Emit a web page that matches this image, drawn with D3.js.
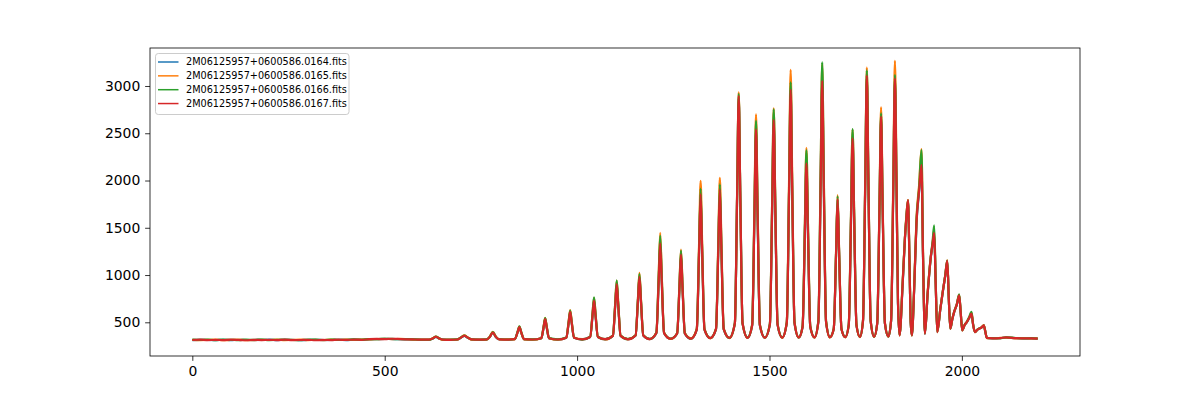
<!DOCTYPE html>
<html><head><meta charset="utf-8">
<script src="https://cdn.jsdelivr.net/npm/d3@7"></script>
<style>body{margin:0;background:#fff}svg{display:block}text{font-family:"DejaVu Sans",sans-serif}</style>
</head><body><svg id="chart" width="1200" height="400"></svg>
<script>
const pixelIndex = [
0,20,40,60,80,100,120,140,160,180,200,220,240,260,280,300,320,340,360,380,400,420,440,460,480,500,520,540,560,580,600,
615,625,633,641,651,670,688,698,707,716,726,748,765,773,781,789,798,822,838,845,850,855,862,885,
907,913,917,921,927,950,
972,978,982,986,992,1013,
1034,1040,1044,1048,1054,1073,
1093,1099,1103,1107,1113,1132,
1152,1158,1162,1166,1172,1189,
1206,1212,1216,1220,1226,1243,
1260,1266,1270,1274,1280,1296,
1311,1317,1321,1325,1331,1346,
1361,1367,1371,1375,1381,1396,
1410,1416,1420,1424,1430,1443,
1455,1461,1465,1469,1475,1488,
1501,1507,1511,1515,1521,1533,
1545,1551,1555,1559,1565,1576,
1586,1592,1596,1600,1606,1617,
1627,1633,1637,1641,1647,1657,
1667,1673,1677,1681,1687,1697,
1706,1712,1716,1720,1726,1735,
1743,1749,1753,1757,1763,1772,
1780,1786,1790,1794,1800,1809,
1816,1822,1826,1830,1834,1838,
1846,1852,1856,1860,1864,1867,1870,
1876,1882,1889,1895,1899,1904,
1911,1919,1924,1928,1932,1936,
1944,1951,1957,1962,1966,1970,
1975,1980,1987,1993,1997,2001,
2007,2013,2019,2025,2029,2034,
2040,2045,2051,2057,2061,2065,
2080,2100,2115,2140,2160,2180,2197];

const seriesNames = ["2M06125957+0600586.0164.fits","2M06125957+0600586.0165.fits","2M06125957+0600586.0166.fits","2M06125957+0600586.0167.fits"];

const flux0164 = [
311,315,313,312,315,311,315,313,312,314,316,312,314,315,311,313,315,312,313,315,312,316,313,320,322,324,323,322,319,317,317,
317,328,345,329,316,316,317,337,356,336,318,317,317,344,390,343,319,318,321,388,445,388,321,317,
331,445,530,445,331,317,
337,488,600,488,337,320,
344,560,720,560,344,319,
356,666,895,666,356,322,
361,711,970,711,361,322,
385,922,1320,922,385,325,
381,854,1205,854,381,328,
422,1231,1830,1231,422,332,
426,1261,1880,1261,426,334,
487,1856,2870,1856,487,335,
466,1640,2510,1640,466,336,
473,1701,2610,1701,473,337,
494,1893,2930,1893,494,338,
448,1432,2160,1432,448,339,
501,1948,3020,1948,501,341,
429,1211,1790,1211,429,342,
469,1590,2420,1590,469,345,
510,1986,3080,1986,510,347,
486,1729,2650,1729,486,349,
512,1970,3050,1970,695,363,
890,1380,1610,1780,1090,498,361,
845,1540,1885,2140,1190,378,
795,1175,1320,1430,895,396,
638,838,998,1145,748,432,
528,608,688,782,598,414,
469,501,543,588,478,396,
419,432,444,466,399,334,
331,334,339,332,331,330,326];

const flux0165 = [
315,312,314,317,310,313,316,312,311,315,313,316,312,314,317,311,314,312,316,313,317,314,318,319,323,325,322,325,321,317,318,
318,332,350,331,315,318,316,340,362,340,317,318,316,347,398,348,318,319,320,393,455,392,320,316,
332,456,548,456,332,316,
339,506,630,506,339,321,
346,584,760,584,346,318,
359,693,940,693,359,323,
364,742,1022,742,364,321,
392,998,1446,998,392,324,
385,893,1270,893,385,330,
432,1331,1997,1331,432,331,
435,1351,2029,1351,435,332,
491,1894,2933,1894,491,334,
478,1754,2700,1754,478,335,
483,1793,2764,1793,483,336,
508,2037,3170,2037,508,337,
459,1543,2346,1543,459,338,
513,2074,3230,2074,513,339,
432,1244,1845,1244,432,341,
476,1662,2540,1662,476,343,
517,2055,3194,2055,517,345,
494,1804,2775,1804,494,347,
525,2099,3265,2099,720,360,
920,1400,1640,1795,1110,505,360,
870,1600,1960,2333,1250,382,
810,1190,1340,1480,910,395,
645,845,1005,1155,755,430,
535,612,695,790,605,413,
472,505,550,600,484,395,
422,435,447,470,402,333,
332,335,338,331,333,329,330];

const flux0166 = [
318,314,316,312,317,315,311,316,314,318,312,315,317,313,311,317,316,313,318,314,315,319,316,323,322,326,324,321,322,319,315,
315,329,348,332,318,314,319,339,360,337,320,315,319,346,396,346,321,316,323,395,458,394,322,319,
332,454,545,454,332,320,
338,503,625,503,338,317,
347,587,765,587,347,322,
359,696,945,696,359,321,
363,735,1010,735,363,324,
390,979,1415,979,390,327,
384,886,1258,886,384,326,
427,1282,1915,1282,427,334,
431,1309,1960,1309,431,336,
490,1883,2915,1883,490,338,
474,1712,2630,1712,474,339,
482,1786,2752,1786,482,340,
500,1959,3039,1959,500,341,
458,1529,2322,1529,458,342,
515,2087,3251,2087,515,343,
431,1236,1832,1236,431,345,
476,1664,2544,1664,476,347,
515,2037,3165,2037,515,349,
490,1765,2710,1765,490,351,
516,2010,3116,2010,705,364,
910,1395,1630,1790,1105,502,364,
860,1570,1930,2322,1230,383,
805,1185,1360,1527,930,399,
642,842,1003,1152,752,435,
532,611,693,795,603,417,
471,506,555,610,486,398,
421,434,446,469,401,336,
333,331,341,334,329,332,328];

const flux0167 = [
313,316,311,314,312,317,313,310,315,312,314,311,316,312,313,315,310,314,312,316,314,317,315,321,324,322,326,323,320,318,316,
316,330,347,330,317,315,318,338,358,338,319,316,318,345,392,345,320,317,322,390,448,390,323,318,
331,448,535,448,331,318,
337,494,610,494,337,319,
345,566,730,566,345,321,
357,672,905,672,357,320,
361,717,980,717,361,323,
386,931,1335,931,386,326,
382,863,1220,863,382,327,
423,1246,1856,1246,423,333,
427,1276,1905,1276,427,335,
489,1870,2894,1870,489,336,
468,1659,2541,1659,468,337,
475,1719,2640,1719,475,338,
495,1910,2958,1910,495,340,
450,1444,2181,1444,450,341,
503,1968,3053,1968,503,342,
430,1219,1803,1219,430,343,
470,1605,2446,1605,470,346,
512,2004,3109,2004,512,348,
488,1744,2675,1744,488,350,
514,1989,3081,1989,700,362,
900,1390,1620,1792,1100,500,362,
850,1550,1900,2163,1200,380,
800,1180,1330,1446,900,397,
640,840,1000,1150,750,433,
530,610,690,786,600,415,
470,503,545,592,480,397,
420,433,445,468,400,335,
330,333,340,333,330,331,327];

const xTicks = [0,500,1000,1500,2000];
const yTicks = [500,1000,1500,2000,2500,3000];
const colors = ["#1f77b4","#ff7f0e","#2ca02c","#d62728"];
const allSeries = [flux0164, flux0165, flux0166, flux0167];

const svg = d3.select("#chart");
const L=150, R=1080, T=48, B=356;
const x = d3.scaleLinear().domain([-110, 2307]).range([L, R]);
const y = d3.scaleLinear().domain([143.5, 3402]).range([B, T]);

svg.append("defs").append("clipPath").attr("id","clip")
  .append("rect").attr("x",L).attr("y",T).attr("width",R-L).attr("height",B-T);

const line = d3.line().x(d=>x(d[0])).y(d=>y(d[1])).curve(d3.curveMonotoneX);
const g = svg.append("g").attr("clip-path","url(#clip)");
allSeries.forEach((s,i)=>{
  g.append("path").datum(pixelIndex.map((p,j)=>[p,s[j]]))
    .attr("d", line).attr("fill","none").attr("stroke",colors[i])
    .attr("stroke-width",2.2).attr("stroke-linejoin","round").attr("stroke-linecap","butt");
});

const xa = svg.append("g").attr("transform",`translate(0,${B})`)
  .call(d3.axisBottom(x).tickValues(xTicks).tickSize(4.86).tickPadding(4.86).tickFormat(d3.format("d")));
const ya = svg.append("g").attr("transform",`translate(${L},0)`)
  .call(d3.axisLeft(y).tickValues(yTicks).tickSize(4.86).tickPadding(4.86).tickFormat(d3.format("d")));
[xa,ya].forEach(a=>{
  a.select(".domain").remove();
  a.selectAll(".tick line").attr("stroke","#000").attr("stroke-width",0.8);
  a.selectAll(".tick text").attr("fill","#000").style("font-size","13.9px").style("font-family","DejaVu Sans");
});

svg.append("rect").attr("x",L).attr("y",T).attr("width",R-L).attr("height",B-T)
  .attr("fill","none").attr("stroke","#000").attr("stroke-width",0.8);

const lg = svg.append("g");
lg.append("rect").attr("x",155.5).attr("y",53.5).attr("width",193.5).attr("height",61)
  .attr("rx",2.8).attr("fill","#fff").attr("fill-opacity",0.8).attr("stroke","#cccccc").attr("stroke-width",1);
seriesNames.forEach((n,i)=>{
  const yy = 62 + i*13.85;
  lg.append("line").attr("x1",158).attr("x2",178.5).attr("y1",yy).attr("y2",yy)
    .attr("stroke",colors[i]).attr("stroke-width",1.5);
  lg.append("text").attr("x",186).attr("y",yy).attr("dy","0.35em")
    .style("font-size","9.7px").attr("fill","#000").text(n);
});
</script></body></html>
